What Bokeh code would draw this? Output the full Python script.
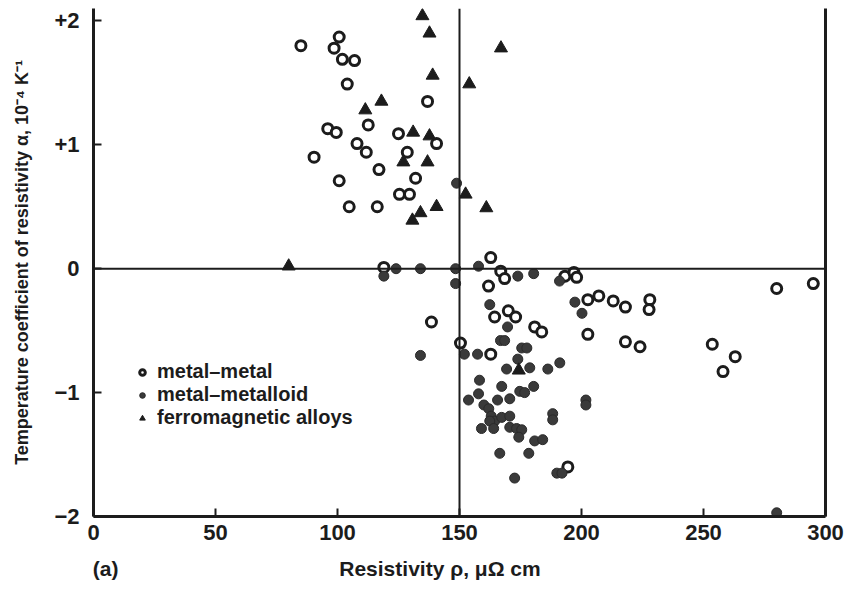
from bokeh.plotting import figure
from bokeh.models import (ColumnDataSource, Span, Legend, LegendItem, LinearAxis,
                          FixedTicker)
from bokeh.embed import file_html
from bokeh.resources import INLINE

# Resistivity rho (micro-ohm cm) and temperature coefficient alpha (1e-4 / K)
mm_rho = [85, 98.6, 100.7, 102, 107, 104, 96, 99.5, 112.6, 108, 111.8, 90.4, 117,
          100.7, 104.8, 116.3, 125, 128.6, 132, 125.4, 129.5, 136.9, 140.6, 119,
          162.8, 166.9, 168.5, 161.9, 164.4, 170, 173, 180.8, 183.7, 202.6, 150.4,
          162.8, 193.2, 196.9, 198, 202.6, 207.1, 213, 218, 228, 227.7, 218, 224,
          253.6, 263, 258, 280, 295, 138.5, 194.4]
mm_alpha = [1.80, 1.78, 1.87, 1.69, 1.68, 1.49, 1.13, 1.10, 1.16, 1.01, 0.94, 0.90,
            0.80, 0.71, 0.50, 0.50, 1.09, 0.94, 0.73, 0.60, 0.60, 1.35, 1.01, 0.01,
            0.09, -0.02, -0.08, -0.14, -0.39, -0.34, -0.39, -0.47, -0.51, -0.53,
            -0.60, -0.69, -0.06, -0.03, -0.07, -0.25, -0.22, -0.26, -0.31, -0.25,
            -0.33, -0.59, -0.63, -0.61, -0.71, -0.83, -0.16, -0.12, -0.43, -1.60]

mmd_rho = [119, 124, 134, 148.4, 157.8, 148.4, 148.8, 134, 173.9, 180.4, 191,
           162.4, 169.7, 197.3, 200.2, 166.8, 168.5, 175.5, 177.6, 152, 157.4,
           173.9, 169.3, 178.8, 186.2, 191.1, 158.2, 167.3, 174.7, 176.7, 180.4,
           153.7, 157.8, 165.6, 170.6, 201.8, 201.8, 160, 162, 163, 164.4, 162.4,
           167.3, 170.6, 188.2, 188.2, 159, 164, 170.6, 173.4, 175.5, 174.3,
           180.8, 184.1, 166.5, 178.4, 172.6, 189.9, 192, 280]
mmd_alpha = [-0.06, 0.0, 0.0, 0.0, 0.02, -0.12, 0.69, -0.70, -0.06, -0.04, -0.10,
             -0.29, -0.47, -0.27, -0.36, -0.58, -0.58, -0.64, -0.64, -0.69, -0.69,
             -0.73, -0.81, -0.80, -0.81, -0.76, -0.90, -0.95, -0.99, -1.00, -0.95,
             -1.06, -1.01, -1.06, -1.05, -1.06, -1.10, -1.10, -1.13, -1.19, -1.23,
             -1.23, -1.20, -1.19, -1.17, -1.22, -1.29, -1.29, -1.28, -1.29, -1.30,
             -1.36, -1.39, -1.38, -1.49, -1.49, -1.69, -1.65, -1.65, -1.97]

fm_rho = [80, 134.8, 137.7, 139, 154, 167, 118, 111.4, 131, 137.7, 127, 136.9,
          152.5, 140.6, 161, 134, 130.7, 174.3]
fm_alpha = [0.02, 2.04, 1.90, 1.56, 1.49, 1.78, 1.35, 1.28, 1.10, 1.07, 0.86, 0.86,
            0.60, 0.50, 0.49, 0.45, 0.39, -0.82]

x_ticks = [0, 50, 100, 150, 200, 250, 300]
y_ticks = [-2, -1, 0, 1, 2]
y_tick_labels = {-2: "\u22122", -1: "\u22121", 0: "0", 1: "+1", 2: "+2"}

# caption row under the x axis: panel tag at left, axis title near centre
caption_pos = [5, 142]
caption_text = {5: "(a)", 142: "Resistivity \u03c1, \u03bc\u03a9 cm"}

FONT = "Liberation Sans"
INK = "#1c1c1c"

p = figure(width=846, height=589, x_range=(0, 300), y_range=(-2, 2.1),
           output_backend="svg", toolbar_location=None,
           min_border_left=93, min_border_right=21, min_border_top=8,
           min_border_bottom=73)
p.outline_line_color = None
p.grid.visible = False
p.background_fill_color = "white"

# quadrant dividers
p.add_layout(Span(location=150, dimension="height", line_color=INK, line_width=2))
p.add_layout(Span(location=0, dimension="width", line_color=INK, line_width=2))

src_mm = ColumnDataSource(dict(x=mm_rho, y=mm_alpha))
src_mmd = ColumnDataSource(dict(x=mmd_rho, y=mmd_alpha))
src_fm = ColumnDataSource(dict(x=fm_rho, y=fm_alpha))

r_mm = p.scatter("x", "y", source=src_mm, marker="circle", size=10,
                 fill_color="white", line_color=INK, line_width=3)
r_mmd = p.scatter("x", "y", source=src_mmd, marker="circle", size=10,
                  fill_color="#3a3a3a", line_color="#2a2a2a", line_width=1)
r_fm = p.scatter("x", "y", source=src_fm, marker="triangle", size=13,
                 fill_color=INK, line_color=INK, line_width=1)

for ax in (p.xaxis[0], p.yaxis[0]):
    ax.axis_line_width = 3
    ax.axis_line_color = INK
    ax.major_tick_line_color = INK
    ax.major_tick_line_width = 2
    ax.major_tick_in = 8
    ax.major_tick_out = 0
    ax.minor_tick_line_color = None
    ax.major_label_text_font = FONT
    ax.major_label_text_font_style = "bold"
    ax.major_label_text_font_size = "22px"
    ax.major_label_text_color = INK
    ax.axis_label_text_font = FONT
    ax.axis_label_text_font_style = "bold"
    ax.axis_label_text_color = INK

p.xaxis[0].ticker = FixedTicker(ticks=x_ticks)
p.xaxis[0].major_label_standoff = 8

p.yaxis[0].ticker = FixedTicker(ticks=y_ticks)
p.yaxis[0].major_label_overrides = y_tick_labels
p.yaxis[0].major_label_standoff = 14
p.yaxis[0].axis_label = "Temperature coefficient of resistivity \u03b1, 10\u207b\u2074 K\u207b\u00b9"
p.yaxis[0].axis_label_text_font_size = "18px"
p.yaxis[0].axis_label_standoff = 19

# caption line: a bare axis that only carries text
caption = LinearAxis(ticker=FixedTicker(ticks=caption_pos),
                     major_label_overrides=caption_text,
                     axis_line_color=None, major_tick_line_color=None,
                     minor_tick_line_color=None, major_label_standoff=8,
                     major_label_text_font=FONT, major_label_text_font_style="bold",
                     major_label_text_font_size="21px", major_label_text_color=INK)
p.add_layout(caption, "below")

# right-hand frame edge
right = LinearAxis(ticker=FixedTicker(ticks=[]), axis_line_width=3, axis_line_color=INK,
                   major_tick_line_color=None, minor_tick_line_color=None,
                   major_label_text_font_size="0px")
p.add_layout(right, "right")

legend = Legend(items=[LegendItem(label="metal\u2013metal", renderers=[r_mm]),
                       LegendItem(label="metal\u2013metalloid", renderers=[r_mmd]),
                       LegendItem(label="ferromagnetic alloys", renderers=[r_fm])],
                location=(42, 87), padding=0, spacing=0, margin=0,
                label_height=22, glyph_height=14, glyph_width=14, label_standoff=8,
                label_text_font=FONT, label_text_font_style="bold",
                label_text_font_size="20px", label_text_color=INK,
                background_fill_alpha=0, border_line_color=None)
p.add_layout(legend)

open("out.html", "w").write(file_html(p, INLINE))
